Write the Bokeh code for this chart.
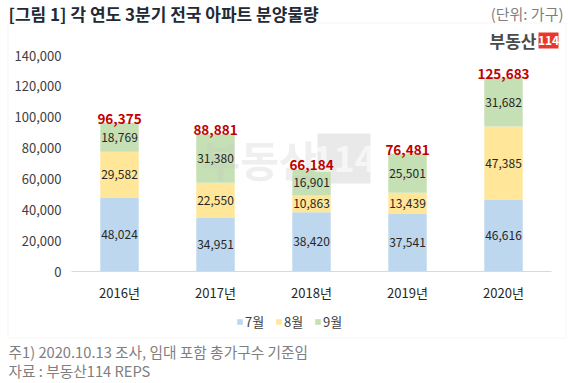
from bokeh.plotting import figure
from bokeh.models import (ColumnDataSource, Label, Legend, LegendItem, BoxAnnotation,
                          Range1d)
from bokeh.core.properties import value
from bokeh.embed import file_html
from bokeh.resources import INLINE

# ---- data ----
years = ["2016년", "2017년", "2018년", "2019년", "2020년"]
months = ["7월", "8월", "9월"]
jul = [48024, 34951, 38420, 37541, 46616]
aug = [29582, 22550, 10863, 13439, 47385]
sep = [18769, 31380, 16901, 25501, 31682]
totals = [96375, 88881, 66184, 76481, 125683]
y_ticks = [0, 20000, 40000, 60000, 80000, 100000, 120000, 140000]

title_text = "[그림 1] 각 연도 3분기 전국 아파트 분양물량"
unit_text = "(단위: 가구)"
note_text = "주1) 2020.10.13 조사, 임대 포함 총가구수 기준임"
source_text = "자료 : 부동산114 REPS"

colors = ["#bdd7ee", "#ffe699", "#c5e0b4"]
FONT = "Noto Sans CJK KR"

# ---- canvas / scale layout ----
W, H = 568, 383
PX_PER_CAT = 96.0          # px between category centres
FIRST_CENTER = 119.0       # px of first category centre
ZERO_PX = 271.0            # px (from top) of y = 0
PX_PER_UNIT = 216.0 / 140000.0

x_start = -FIRST_CENTER / PX_PER_CAT
x_end = x_start + W / PX_PER_CAT
y_end = ZERO_PX / PX_PER_UNIT
y_start = -(H - ZERO_PX) / PX_PER_UNIT

xs = list(range(len(years)))
src = ColumnDataSource(dict(x=xs, m7=jul, m8=aug, m9=sep))

p = figure(x_range=Range1d(x_start, x_end), y_range=Range1d(y_start, y_end),
           width=W, height=H, min_border=0,
           min_border_left=0, min_border_right=0, min_border_top=0, min_border_bottom=0,
           output_backend="svg", toolbar_location=None,
           outline_line_color=None, background_fill_color="white",
           border_fill_color="white")
p.xaxis.visible = False
p.yaxis.visible = False
p.xgrid.grid_line_color = None
p.ygrid.grid_line_color = None

rs = p.vbar_stack(["m7", "m8", "m9"], x="x", width=0.4, color=colors,
                  line_color=None, source=src)

# baseline (category axis line)
p.segment(x0=[-0.5], y0=[0], x1=[len(years) - 0.5], y1=[0],
          line_color="#d9d9d9", line_width=1)

# y tick labels
p.text(x=[-0.5] * len(y_ticks), y=y_ticks, text=[f"{v:,}" for v in y_ticks],
       x_offset=-10, text_font=value(FONT), text_font_size="13px",
       text_align="right", text_baseline="middle", text_color="#404040")

# x tick labels
p.text(x=xs, y=[0] * len(xs), text=years, y_offset=21, text_font=value(FONT),
       text_font_size="13px", text_align="center", text_baseline="middle",
       text_color="#262626")

def sy(page_y):
    return H - page_y

def scr_label(x, y, text, **kw):
    p.add_layout(Label(x=x, y=sy(y), x_units="screen", y_units="screen", text=text,
                       text_font=FONT, **kw))

def scr_box(l, r, t, b, **kw):
    p.add_layout(BoxAnnotation(left=l, right=r, top=sy(t), bottom=sy(b),
                               left_units="screen", right_units="screen",
                               top_units="screen", bottom_units="screen", **kw))

# watermark (drawn beneath the value labels)
scr_box(317, 370, 133, 183, fill_color="#cfcfcf", fill_alpha=0.45, line_color=None,
        level="underlay")
p.add_layout(Label(x=317, y=sy(158), x_units="screen", y_units="screen", text="부동산",
                   text_font=FONT, text_font_size="42px", text_font_style="bold",
                   text_color="#c8c8c8", text_alpha=0.3, text_align="right",
                   text_baseline="middle", level="glyph"))
p.add_layout(Label(x=343.5, y=sy(158), x_units="screen", y_units="screen", text="114",
                   text_font=FONT, text_font_size="36px", text_font_style="bold",
                   text_color="white", text_alpha=0.6, text_align="center",
                   text_baseline="middle", level="glyph"))

# segment labels
fmt = lambda v: f"{v:,}"
lx, ly, lt = [], [], []
for i in xs:
    b = 0
    for seg in (jul[i], aug[i], sep[i]):
        lx.append(i)
        ly.append(b + seg / 2)
        lt.append(fmt(seg))
        b += seg
lab_src = ColumnDataSource(dict(x=lx, y=ly, t=lt))
p.text(x="x", y="y", text="t", source=lab_src, text_font=value(FONT),
       text_font_size="12px", text_align="center", text_baseline="middle",
       text_color="#262626", level="overlay")

tot_src = ColumnDataSource(dict(x=xs, y=totals, t=[fmt(v) for v in totals]))
p.text(x="x", y="y", text="t", source=tot_src, text_font=value(FONT),
       text_font_size="13.5px", text_font_style="bold", text_align="center",
       text_baseline="alphabetic", y_offset=-4, text_color="#c00000", level="overlay")

# legend (screen coords from frame bottom-left)
legend = Legend(items=[LegendItem(label=m, renderers=[r]) for m, r in zip(months, rs)],
                orientation="horizontal", location=(236, 52),
                glyph_width=7, glyph_height=7, label_standoff=2, spacing=10,
                padding=0, margin=0, border_line_color=None,
                background_fill_alpha=0, label_text_font=FONT,
                label_text_font_size="13px", label_text_color="#404040",
                label_height=16)
p.add_layout(legend, "center")

# outer chart border
scr_box(7.5, 565.5, 22.5, 337.5, fill_alpha=0, line_color="#d9d9d9", line_width=1)

# logo
scr_label(536, 40, "부동산", text_font_size="17px", text_font_style="bold",
          text_color="#4a4a4a", text_align="right", text_baseline="middle")
scr_box(538, 558, 32, 48, fill_color="#e8382b", fill_alpha=1, line_color=None)
scr_label(548, 40, "114", text_font_size="12px", text_font_style="bold",
          text_color="white", text_align="center", text_baseline="middle")

# title, unit, notes
scr_label(8, 0, title_text, text_font_size="17px", text_font_style="bold",
          text_color="#222a35", text_align="left", text_baseline="top")
scr_label(563, 13, unit_text, text_font_size="15px", text_color="#7f7f7f",
          text_align="right", text_baseline="middle")
scr_label(8, 351, note_text, text_font_size="14.7px", text_color="#7f7f7f",
          text_align="left", text_baseline="middle")
scr_label(8, 370, source_text, text_font_size="14.7px", text_color="#7f7f7f",
          text_align="left", text_baseline="middle")

open("out.html", "w").write(file_html(p, INLINE))
